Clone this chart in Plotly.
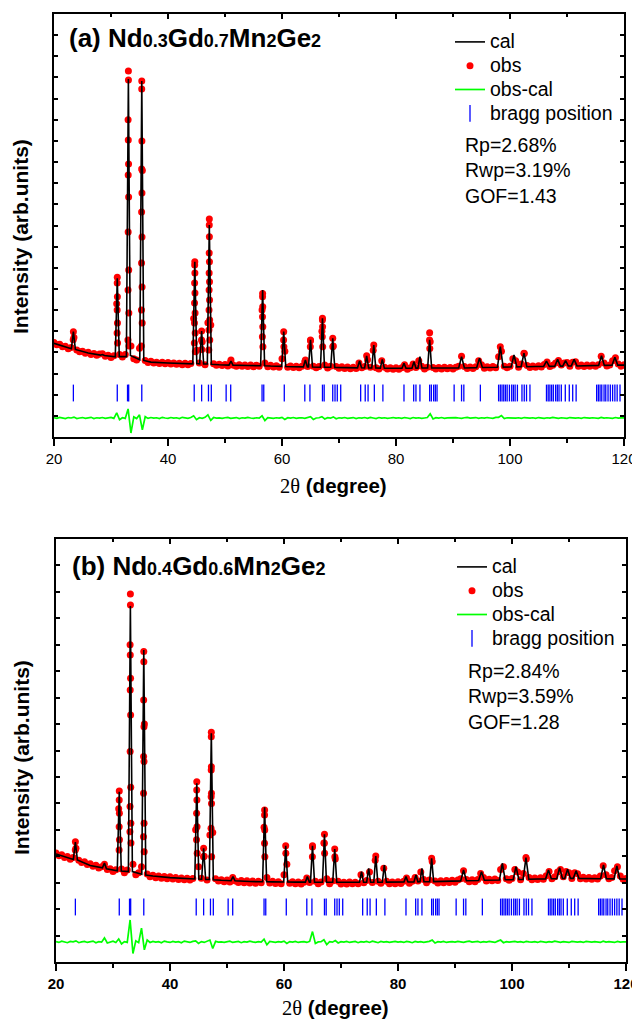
import plotly.graph_objects as go

# ---------------- data (2theta in degrees, intensity in arb. units) ----------------
# 2theta grid of the plotted observed points / difference curve
obs_theta = [
    20.0, 20.5, 21.0, 21.5, 22.0, 22.5, 23.0, 23.5, 24.0, 24.5,
    25.0, 25.5, 26.0, 26.5, 27.0, 27.5, 28.0, 28.5, 29.0, 29.5,
    30.0, 30.5, 31.0, 31.5, 32.0, 32.5, 33.0, 33.5, 34.0, 34.5,
    35.0, 35.5, 36.0, 36.5, 37.0, 37.5, 38.0, 38.5, 39.0, 39.5,
    40.0, 40.5, 41.0, 41.5, 42.0, 42.5, 43.0, 43.5, 44.0, 44.5,
    45.0, 45.5, 46.0, 46.5, 47.0, 47.5, 48.0, 48.5, 49.0, 49.5,
    50.0, 50.5, 51.0, 51.5, 52.0, 52.5, 53.0, 53.5, 54.0, 54.5,
    55.0, 55.5, 56.0, 56.5, 57.0, 57.5, 58.0, 58.5, 59.0, 59.5,
    60.0, 60.5, 61.0, 61.5, 62.0, 62.5, 63.0, 63.5, 64.0, 64.5,
    65.0, 65.5, 66.0, 66.5, 67.0, 67.5, 68.0, 68.5, 69.0, 69.5,
    70.0, 70.5, 71.0, 71.5, 72.0, 72.5, 73.0, 73.5, 74.0, 74.5,
    75.0, 75.5, 76.0, 76.5, 77.0, 77.5, 78.0, 78.5, 79.0, 79.5,
    80.0, 80.5, 81.0, 81.5, 82.0, 82.5, 83.0, 83.5, 84.0, 84.5,
    85.0, 85.5, 86.0, 86.5, 87.0, 87.5, 88.0, 88.5, 89.0, 89.5,
    90.0, 90.5, 91.0, 91.5, 92.0, 92.5, 93.0, 93.5, 94.0, 94.5,
    95.0, 95.5, 96.0, 96.5, 97.0, 97.5, 98.0, 98.5, 99.0, 99.5,
    100.0, 100.5, 101.0, 101.5, 102.0, 102.5, 103.0, 103.5, 104.0, 104.5,
    105.0, 105.5, 106.0, 106.5, 107.0, 107.5, 108.0, 108.5, 109.0, 109.5,
    110.0, 110.5, 111.0, 111.5, 112.0, 112.5, 113.0, 113.5, 114.0, 114.5,
    115.0, 115.5, 116.0, 116.5, 117.0, 117.5, 118.0, 118.5, 119.0, 119.5,
    120.0,
]

obs_a = [
    4470, 4360, 4380, 4270, 4290, 4170, 4230, 4700, 4110, 4030,
    4060, 3960, 4010, 3900, 3950, 3870, 3920, 3940, 3820, 3860,
    3760, 3840, 6300, 3900, 3780, 3900, 15000, 4300, 3700, 3640,
    4200, 12600, 3620, 3520, 3580, 3500, 3540, 3470, 3530, 3460,
    3520, 3450, 3500, 3440, 3490, 3420, 3490, 3420, 3480, 5600,
    4100, 3500, 4500, 3420, 5400, 5300, 3460, 3390, 3440, 3380,
    3430, 3360, 3560, 3390, 3350, 3420, 3340, 3410, 3330, 3400,
    3320, 3390, 3340, 6000, 3500, 3320, 3390, 3310, 3370, 3300,
    3700, 4050, 3300, 3360, 3290, 3350, 3280, 3340, 3560, 3330,
    4550, 3340, 3270, 3330, 5000, 3400, 3260, 3350, 4300, 3330,
    3250, 3320, 3240, 3310, 3230, 3300, 3240, 3500, 3280, 3330,
    3650, 3300, 4100, 3280, 3220, 3600, 3300, 3210, 3280, 3200,
    3270, 3200, 3280, 3420, 3200, 3270, 3450, 3290, 3600, 3350,
    3210, 3300, 4500, 3290, 3220, 3290, 3210, 3300, 3230, 3290,
    3220, 3300, 3350, 3820, 3330, 3240, 3310, 3240, 3320, 3600,
    3420, 3250, 3320, 3260, 3330, 3270, 3800, 4050, 3340, 3280,
    3350, 3700, 3600, 3300, 3450, 3950, 3380, 3290, 3360, 3300,
    3370, 3310, 3430, 3550, 3330, 3390, 3500, 3620, 3400, 3500,
    3520, 3340, 3530, 3560, 3340, 3400, 3330, 3410, 3340, 3400,
    3350, 3420, 3820, 3500, 3360, 3410, 3600, 3750, 3450, 3350,
    3420,
]

obs_b = [
    4120, 4020, 4060, 3950, 3990, 3890, 3950, 4300, 3850, 3760,
    3790, 3690, 3720, 3620, 3660, 3560, 3600, 3700, 3500, 3530,
    3420, 3490, 5800, 3520, 3380, 3480, 12000, 3700, 3300, 3380,
    3600, 9000, 3330, 3220, 3280, 3190, 3250, 3170, 3230, 3150,
    3220, 3140, 3200, 3120, 3180, 3110, 3170, 3100, 3160, 5000,
    3600, 3170, 4000, 3100, 4800, 4900, 3150, 3060, 3110, 3040,
    3100, 3030, 3200, 3060, 3010, 3080, 3000, 3070, 2990, 3060,
    2980, 3050, 3000, 5100, 3200, 2990, 3050, 2970, 3040, 2960,
    3300, 3700, 2980, 3040, 2960, 3030, 2950, 3020, 3180, 3010,
    4350, 3050, 2960, 3030, 4500, 3150, 2960, 3060, 3900, 3050,
    2950, 3020, 2950, 3030, 2960, 3020, 2960, 3300, 3000, 3080,
    3400, 3010, 3850, 3050, 2980, 3550, 3050, 2960, 3030, 2960,
    3040, 2970, 3050, 3180, 2980, 3050, 3200, 3060, 3400, 3120,
    3000, 3100, 3800, 3060, 2990, 3070, 3000, 3080, 3010, 3090,
    3020, 3100, 3150, 3450, 3120, 3040, 3110, 3040, 3120, 3350,
    3200, 3060, 3130, 3070, 3140, 3080, 3500, 3600, 3150, 3090,
    3160, 3500, 3400, 3110, 3350, 3900, 3200, 3110, 3180, 3120,
    3190, 3130, 3260, 3420, 3150, 3220, 3400, 3500, 3220, 3420,
    3380, 3160, 3380, 3340, 3150, 3210, 3140, 3200, 3130, 3190,
    3140, 3250, 3640, 3300, 3150, 3200, 3450, 3600, 3250, 3130,
    3160,
]

# extra observed points on the flanks of the strong reflections
obs_pk_theta_a = [
    23.40, 23.37,
    31.10, 31.09, 31.12, 31.08, 31.13, 31.07, 31.15,
    33.05, 33.06, 33.03, 33.08, 33.02, 33.09, 33.01, 33.11, 32.99, 33.13, 32.97, 33.16,
    35.40, 35.39, 35.42, 35.38, 35.43, 35.37, 35.44, 35.36, 35.45, 35.34, 35.47, 35.32,
    44.70, 44.68, 44.72, 44.67, 44.73, 44.66, 44.75, 44.64, 44.77, 44.62, 44.80,
    45.90, 45.88, 45.93,
    47.25, 47.24, 47.26, 47.23, 47.27, 47.22, 47.28, 47.21, 47.29, 47.20, 47.31, 47.18, 47.33, 47.16,
    51.05,
    56.60, 56.59, 56.62, 56.58, 56.63, 56.56, 56.65,
    60.30, 60.28, 60.33,
    64.10, 65.00, 64.97,
    67.10, 67.09, 67.12, 67.07, 67.14,
    68.90, 68.92,
    74.85, 76.10,
    85.90, 85.88, 85.93,
    98.30, 102.45,
]
obs_pk_a = [
    4980, 4600,
    7550, 7280, 6630, 6000, 5390, 4920, 4440,
    17300, 16880, 14040, 12910, 12390, 11350, 9690, 7900, 6950, 5860, 4590, 4300,
    16830, 16450, 13990, 12670, 11540, 10640, 9460, 8230, 7090, 6000, 5390, 4300,
    8290, 8130, 7750, 7280, 6810, 6340, 5860, 5390, 4920, 4440, 4030,
    5010, 4590, 4140,
    10310, 10020, 9470, 8700, 8290, 7750, 7340, 6950, 6480, 6000, 5530, 5060, 4590, 4110,
    3640,
    6790, 6630, 6160, 5690, 5210, 4740, 4270,
    4980, 4590, 4270,
    3640, 4590, 4270,
    5610, 5530, 5210, 4740, 4270,
    4670, 4270,
    3840, 4350,
    4930, 4590, 4190,
    4270, 3960,
]

obs_pk_theta_b = [
    23.40, 23.38,
    31.10, 31.09, 31.12, 31.08, 31.13, 31.07,
    33.05, 33.06, 33.03, 33.08, 33.02, 33.09, 33.01, 33.11, 32.99, 33.13, 32.97, 33.15,
    35.40, 35.41, 35.38, 35.43, 35.37, 35.44, 35.36, 35.45, 35.34, 35.47,
    44.70, 44.69, 44.72, 44.67, 44.74, 44.65, 44.77,
    45.90, 45.88,
    47.25, 47.24, 47.26, 47.23, 47.27, 47.22, 47.28, 47.20, 47.31,
    56.60, 56.59, 56.62, 56.58, 56.64,
    60.30, 60.32,
    65.00, 64.98,
    67.10, 67.08, 67.12,
    68.90, 68.92,
    76.10, 85.90, 102.45,
]
obs_pk_b = [
    4550, 4240,
    6470, 6130, 5630, 5120, 4620, 4240,
    13920, 13500, 11610, 10730, 10290, 9340, 7960, 6610, 5880, 5250, 4930, 4500,
    11740, 11360, 9910, 8900, 7770, 7580, 6380, 5250, 4740, 4170,
    6820, 6510, 6130, 5630, 5120, 4620, 4110,
    4300, 3980,
    8690, 8520, 7390, 7260, 6380, 6250, 6000, 5060, 3980,
    5750, 5560, 4990, 4490, 3980,
    4400, 4110,
    4400, 3980,
    4830, 4490, 4110,
    4275, 3980,
    4010, 3920, 3950,
]

# calculated profile (vertices of the refined curve)
cal_theta = [
    20, 22, 23.05, 23.4, 23.75, 26, 28.15, 28.5, 28.85,
    30.75, 31.1, 31.45, 32.7, 33.05, 33.4, 35.05, 35.4, 35.75,
    37, 40, 43, 44.35, 44.7, 45.05, 45.55, 45.9, 46.25,
    46.9, 47.25, 47.6, 49, 50.7, 51.05, 51.4, 54,
    56.25, 56.6, 56.95, 58, 59.95, 60.3, 60.65, 62,
    63.75, 64.1, 64.45, 64.65, 65.0, 65.35, 66.75, 67.1, 67.45,
    68.55, 68.9, 69.25, 71, 73.25, 73.6, 73.95,
    74.5, 74.85, 75.2, 75.75, 76.1, 76.45, 77.25, 77.6, 77.95, 79,
    81.05, 81.4, 81.75, 82.8, 83.15, 83.5, 83.85, 84.2, 84.55,
    85.55, 85.9, 86.25, 88, 91.0, 91.5, 92.0,
    94.15, 94.65, 95.15, 96.5, 97.8, 98.3, 98.8,
    100.2, 100.7, 101.2, 101.95, 102.45, 102.95, 104.5,
    105.9, 106.4, 106.9, 107.85, 108.35, 108.85,
    109.25, 109.75, 110.25, 110.75, 111.25, 111.75, 114,
    115.55, 116.05, 116.55, 117.9, 118.4, 118.9, 120,
]
cal_a = [
    4430, 4255, 4170, 4980, 4140, 3970, 3870, 3900, 3850,
    3790, 7500, 3800, 3800, 16930, 3850, 3650, 16830, 3620,
    3540, 3500, 3460, 3460, 8290, 3470, 3460, 5010, 3450,
    3450, 10020, 3440, 3415, 3400, 3590, 3400, 3380,
    3370, 6950, 3370, 3355, 3340, 4980, 3335, 3325,
    3315, 3640, 3315, 3315, 4590, 3310, 3300, 5610, 3300,
    3295, 4670, 3290, 3280, 3270, 3590, 3270,
    3265, 3840, 3265, 3260, 4350, 3260, 3255, 3670, 3255, 3250,
    3250, 3490, 3250, 3255, 3560, 3255, 3255, 3800, 3260,
    3260, 4590, 3260, 3260, 3265, 3800, 3265,
    3280, 3720, 3285, 3295, 3300, 4270, 3305,
    3310, 3880, 3315, 3320, 3960, 3320, 3330,
    3335, 3590, 3340, 3345, 3670, 3350,
    3350, 3610, 3355, 3360, 3670, 3360, 3375,
    3385, 3840, 3385, 3395, 3770, 3400, 3400,
]
cal_b = [
    4086, 3960, 3880, 4540, 3860, 3650, 3560, 3745, 3530,
    3450, 6440, 3440, 3420, 13470, 3420, 3320, 11800, 3290,
    3250, 3190, 3140, 3140, 6760, 3140, 3130, 4300, 3120,
    3120, 8650, 3110, 3090, 3075, 3230, 3070, 3045,
    3035, 5850, 3035, 3030, 3026, 4400, 3025, 3022,
    3020, 3230, 3020, 3020, 4400, 3018, 3016, 4830, 3016,
    3015, 4275, 3014, 3014, 3015, 3415, 3015,
    3016, 3545, 3016, 3018, 4010, 3018, 3020, 3670, 3020, 3024,
    3026, 3230, 3028, 3030, 3290, 3032, 3034, 3545, 3036,
    3040, 3920, 3042, 3052, 3068, 3480, 3072,
    3085, 3415, 3090, 3097, 3104, 3735, 3110,
    3116, 3605, 3120, 3125, 3945, 3130, 3138,
    3145, 3480, 3150, 3155, 3565, 3158,
    3160, 3505, 3165, 3165, 3455, 3162, 3155,
    3150, 3670, 3148, 3145, 3630, 3143, 3140,
]

# difference curve (obs - cal, plotted with offset)
diff_a = [
    910, 880, 930, 890, 870, 920, 900, 940, 870, 900,
    920, 880, 900, 930, 870, 910, 890, 920, 880, 900,
    930, 880, 1140, 820, 910, 880, 1330, 190, 950, 870,
    1050, 340, 960, 880, 920, 890, 910, 870, 930, 900,
    880, 920, 890, 910, 870, 930, 900, 880, 920, 1000,
    820, 910, 880, 930, 1050, 790, 920, 890, 900, 880,
    910, 930, 880, 900, 920, 870, 910, 890, 930, 900,
    880, 910, 890, 1000, 780, 920, 900, 880, 910, 890,
    930, 830, 910, 890, 920, 880, 900, 910, 880, 920,
    960, 830, 900, 910, 960, 850, 910, 890, 950, 860,
    910, 890, 920, 880, 900, 920, 870, 910, 890, 920,
    880, 930, 900, 870, 920, 890, 910, 880, 900, 920,
    890, 910, 880, 920, 900, 870, 920, 890, 910, 880,
    900, 920, 1100, 850, 910, 890, 920, 880, 900, 910,
    890, 920, 900, 880, 910, 930, 890, 900, 920, 880,
    910, 890, 920, 900, 880, 930, 930, 1010, 870, 910,
    900, 920, 890, 910, 880, 920, 900, 890, 910, 880,
    920, 900, 880, 910, 890, 930, 900, 880, 910, 900,
    880, 920, 900, 890, 910, 880, 920, 900, 890, 910,
    900, 880, 930, 890, 910, 900, 880, 920, 890, 900,
    900,
]
diff_b = [
    770, 740, 790, 750, 730, 780, 760, 800, 730, 760,
    780, 740, 760, 790, 730, 770, 750, 910, 720, 760,
    790, 740, 870, 680, 770, 740, 1590, 320, 800, 730,
    1280, 460, 830, 740, 780, 750, 770, 730, 790, 760,
    740, 780, 750, 770, 730, 790, 760, 740, 780, 800,
    700, 770, 740, 790, 830, 510, 780, 750, 760, 740,
    770, 790, 740, 760, 780, 730, 770, 750, 790, 760,
    740, 770, 750, 860, 650, 780, 760, 740, 770, 750,
    790, 700, 770, 750, 780, 740, 760, 770, 740, 780,
    1150, 700, 760, 770, 840, 660, 770, 750, 810, 720,
    770, 750, 780, 740, 760, 780, 730, 770, 750, 780,
    740, 790, 760, 730, 780, 750, 770, 740, 760, 780,
    750, 770, 740, 780, 760, 730, 780, 750, 770, 740,
    760, 780, 830, 720, 770, 750, 780, 740, 760, 770,
    750, 780, 760, 740, 770, 790, 750, 760, 780, 740,
    770, 750, 780, 760, 740, 790, 830, 730, 770, 750,
    760, 780, 750, 770, 740, 780, 760, 750, 770, 740,
    780, 760, 740, 770, 750, 790, 760, 740, 770, 760,
    740, 780, 760, 750, 770, 740, 780, 760, 750, 770,
    760, 740, 790, 750, 770, 760, 740, 780, 750, 760,
    760,
]

# Bragg reflection positions and the level at which they are marked
bragg_pos = [
    23.4, 31.1, 32.9, 33.1, 35.4, 44.6, 45.9, 47.1, 47.6, 50.2, 51.0,
    56.5, 56.8, 60.4, 64.0, 64.9, 67.1, 67.4, 68.9, 69.3, 69.7, 70.3,
    73.8, 74.6, 75.1, 76.2, 77.7, 81.4, 83.1, 83.5, 84.2, 85.9, 86.2,
    86.6, 86.9, 87.2, 90.2, 91.5, 91.9, 94.8, 98.0, 98.3, 98.6, 98.9,
    99.2, 99.5, 99.9, 100.3, 100.6, 100.9, 101.3, 102.1, 102.5, 102.9,
    103.5, 106.4, 106.7, 107.0, 107.3, 107.6, 108.0, 108.3, 108.6,
    109.0, 109.7, 110.4, 111.0, 111.6, 115.2, 115.5, 115.8, 116.1,
    116.5, 116.8, 117.2, 117.6, 118.0, 118.4, 118.8, 119.3,
]
bragg_level = 2080

panel_titles = ["(a) Nd|0.3|Gd|0.7|Mn|2|Ge|2", "(b) Nd|0.4|Gd|0.6|Mn|2|Ge|2"]
stats_a = ["Rp=2.68%", "Rwp=3.19%", "GOF=1.43"]
stats_b = ["Rp=2.84%", "Rwp=3.59%", "GOF=1.28"]
x_ticks = [20, 40, 60, 80, 100, 120]
series_names = {"cal": "cal", "obs": "obs", "diff": "obs-cal", "bragg": "bragg position"}

# ---------------- figure ----------------
FONT = "Liberation Sans, Arial, sans-serif"
# the page body has an 8 px margin, so the figure is drawn 8 px smaller and
# every layout position below is given in window pixels minus that offset
OFF = 8
W, H = 640 - OFF, 1022 - OFF
LEG_TXT = 19.5

fig = go.Figure()


def leg_name(key):
    return '<span style="font-size:%spx">%s</span>' % (LEG_TXT, series_names[key])


def add_panel(xa, ya, leg, obs_y, pk_x, pk_y, cal_y, diff_y):
    fig.add_trace(go.Scatter(
        x=obs_theta + pk_x, y=obs_y + pk_y, mode="markers", name=leg_name("obs"),
        marker=dict(color="#ff0000", size=7, line=dict(width=0)),
        xaxis=xa, yaxis=ya, legend=leg, legendrank=2, hoverinfo="skip"))
    fig.add_trace(go.Scatter(
        x=cal_theta, y=cal_y, mode="lines", name=leg_name("cal"),
        line=dict(color="black", width=1.6),
        xaxis=xa, yaxis=ya, legend=leg, legendrank=1, hoverinfo="skip"))
    fig.add_trace(go.Scatter(
        x=obs_theta, y=diff_y, mode="lines", name=leg_name("diff"),
        line=dict(color="#00ff00", width=1.7),
        xaxis=xa, yaxis=ya, legend=leg, legendrank=3, hoverinfo="skip"))
    fig.add_trace(go.Scatter(
        x=bragg_pos, y=[bragg_level] * len(bragg_pos), mode="markers",
        name=leg_name("bragg"),
        marker=dict(symbol="line-ns", size=12, color="#0000ff",
                    line=dict(color="#0000ff", width=1.3)),
        xaxis=xa, yaxis=ya, legend=leg, legendrank=4, hoverinfo="skip"))


add_panel("x", "y", "legend", obs_a, obs_pk_theta_a, obs_pk_a, cal_a, diff_a)
add_panel("x2", "y2", "legend2", obs_b, obs_pk_theta_b, obs_pk_b, cal_b, diff_b)
# empty traces so that the top (inside-tick) axes are drawn
fig.add_trace(go.Scatter(x=[], y=[], xaxis="x3", yaxis="y", showlegend=False))
fig.add_trace(go.Scatter(x=[], y=[], xaxis="x4", yaxis="y2", showlegend=False))


def px_x(p):
    return (p - OFF) / W


def px_y(p):
    return 1 - (p - OFF) / H


def xax(domain, anchor, bold):
    return dict(
        domain=domain, anchor=anchor, range=[20, 120], tickmode="array",
        tickvals=x_ticks, ticktext=[str(v) for v in x_ticks], automargin=False,
        showgrid=False, zeroline=False, showline=True, linecolor="black",
        linewidth=2, mirror=True, ticks="outside", ticklen=7, tickwidth=1.5,
        tickcolor="black",
        minor=dict(dtick=10, tick0=0, ticks="outside", ticklen=4, tickwidth=1.5,
                   tickcolor="black", showgrid=False),
        tickfont=dict(family=FONT, size=15, color="black",
                      weight="bold" if bold else "normal"),
    )


def xtop(over, anchor):
    return dict(
        overlaying=over, side="top", anchor=anchor, range=[20, 120],
        tickmode="array", tickvals=x_ticks, showticklabels=False, automargin=False,
        showgrid=False, zeroline=False, showline=False, ticks="inside",
        ticklen=5, tickwidth=1.5, tickcolor="black",
        minor=dict(dtick=10, tick0=0, ticks="inside", ticklen=3, tickwidth=1.5,
                   tickcolor="black", showgrid=False),
    )


def yax(domain, anchor, top):
    return dict(
        domain=domain, anchor=anchor, range=[0, top], dtick=1000, tick0=0,
        showticklabels=False, showgrid=False, zeroline=False, showline=True,
        linecolor="black", linewidth=2, mirror="ticks", ticks="inside",
        ticklen=4, tickwidth=1.5, tickcolor="black", automargin=False,
    )


legend_common = dict(
    xanchor="left", yanchor="top", bgcolor="rgba(0,0,0,0)",
    font=dict(family=FONT, size=16, color="black"), itemwidth=30,
    tracegroupgap=0,
)

ann = []


def sub_title(spec):
    parts = spec.split("|")
    out = parts[0]
    for i in range(1, len(parts)):
        if i % 2 == 1:
            out += '<span style="font-size:18px">' + parts[i] + "</span>"
        else:
            out += parts[i]
    return "<b>" + out + "</b>"


for spec, tx, ty in [(panel_titles[0], 67, 38), (panel_titles[1], 70, 566)]:
    ann.append(dict(text=sub_title(spec), x=px_x(tx), y=px_y(ty), xref="paper",
                    yref="paper", xanchor="left", yanchor="middle", align="left",
                    showarrow=False, font=dict(family=FONT, size=26, color="black")))

for lines, tx, ty in [(stats_a, 463, 170.5), (stats_b, 466, 696.5)]:
    ann.append(dict(text="<br>".join(lines), x=px_x(tx), y=px_y(ty), xref="paper",
                    yref="paper", xanchor="left", yanchor="middle", align="left",
                    showarrow=False, font=dict(family=FONT, size=19.5, color="black")))

for tx, ty in [(21, 237), (21, 758)]:
    ann.append(dict(text="<b>Intensity (arb.units)</b>", x=px_x(tx), y=px_y(ty),
                    xref="paper", yref="paper", xanchor="center", yanchor="middle",
                    textangle=-90, showarrow=False,
                    font=dict(family=FONT, size=21, color="black")))

xtitle = ('<span style="font-family:Liberation Serif, Times New Roman, serif">2θ</span>'
          ' <b>(degree)</b>')
for tx, ty, yanc in [(333, 485, "middle"), (335, 1021, "bottom")]:
    ann.append(dict(text=xtitle, x=px_x(tx), y=px_y(ty), xref="paper", yref="paper",
                    xanchor="center", yanchor=yanc, showarrow=False,
                    font=dict(family=FONT, size=20.5, color="black")))

fig.update_layout(
    width=W, height=H, margin=dict(l=0, r=0, t=0, b=0),
    paper_bgcolor="white", plot_bgcolor="white",
    xaxis=xax([px_x(54), px_x(624)], "y", False),
    yaxis=yax([px_y(437), px_y(14)], "x", 20000),
    xaxis2=xax([px_x(56), px_x(626)], "y2", True),
    yaxis2=yax([px_y(962), px_y(539)], "x2", 16000),
    xaxis3=xtop("x", "y"),
    xaxis4=xtop("x2", "y2"),
    legend=dict(x=px_x(450), y=px_y(25), **legend_common),
    legend2=dict(x=px_x(452), y=px_y(550), **legend_common),
    annotations=ann,
    showlegend=True,
)

fig.write_html("out.html")
